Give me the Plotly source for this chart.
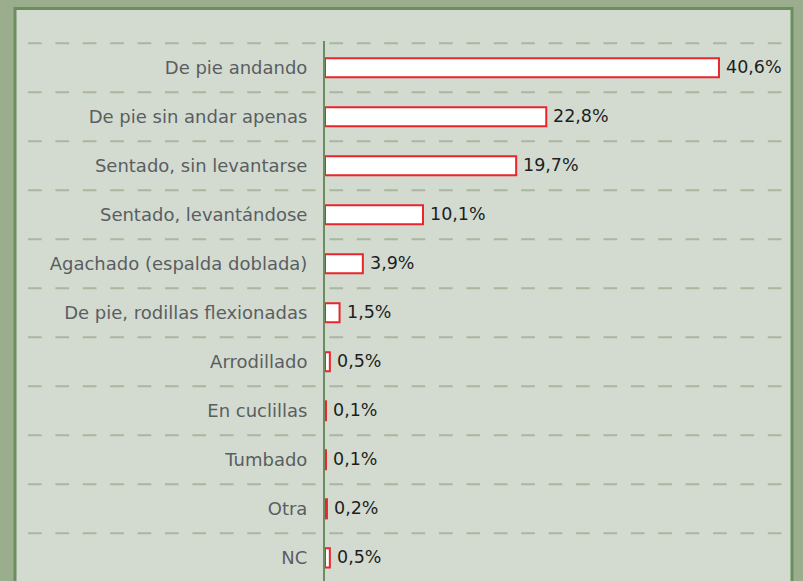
import plotly.graph_objects as go

# Postura habitual durante la jornada laboral (% de trabajadores)
categories = [
    "De pie andando",
    "De pie sin andar apenas",
    "Sentado, sin levantarse",
    "Sentado, levantándose",
    "Agachado (espalda doblada)",
    "De pie, rodillas flexionadas",
    "Arrodillado",
    "En cuclillas",
    "Tumbado",
    "Otra",
    "NC",
]
values = [40.6, 22.8, 19.7, 10.1, 3.9, 1.5, 0.5, 0.1, 0.1, 0.2, 0.5]
value_labels = [f"{v:.1f}".replace(".", ",") + "%" for v in values]

# Page geometry (pixels)
W, H = 803, 581
ML, MR, MT, MB = 325, 20, 41, 0
PW, PH = W - ML - MR, H - MT - MB

BAND = "#9aae8e"
FRAME = "#6b8e5f"
PANEL = "#d3dbd0"
GRID = "#a8b89e"
RED = "#e8262b"
FONT = "DejaVu Sans, Verdana, sans-serif"


def px_x(px):
    return (px - ML) / PW


def px_y(py):
    return 1 - (py - MT) / PH


fig = go.Figure()
fig.add_trace(
    go.Bar(
        x=values,
        y=categories,
        orientation="h",
        width=0.39,
        marker=dict(color="white", line=dict(color=RED, width=2)),
        hoverinfo="x+y",
    )
)

shapes = [
    # inner panel with its darker frame
    dict(
        type="rect", xref="paper", yref="paper", layer="below",
        x0=px_x(15), x1=px_x(792), y0=px_y(600), y1=px_y(8.5),
        fillcolor=PANEL, line=dict(color=FRAME, width=3),
    )
]
# dashed separators between categories
for i in range(len(categories)):
    shapes.append(
        dict(
            type="line", xref="paper", yref="y", layer="below",
            x0=px_x(28), x1=1, y0=i - 0.5, y1=i - 0.5,
            line=dict(color=GRID, width=2, dash="13.7px,13.7px"),
        )
    )

annotations = [
    dict(
        x=v, y=c, xref="x", yref="y", text=t, showarrow=False,
        xanchor="left", yanchor="middle", xshift=5, yshift=1,
        font=dict(family=FONT, size=17.5, color="#1e1e1e"),
    )
    for v, c, t in zip(values, categories, value_labels)
]

fig.update_layout(
    width=W, height=H,
    margin=dict(l=ML, r=MR, t=MT, b=MB, pad=0),
    paper_bgcolor=BAND,
    plot_bgcolor="rgba(0,0,0,0)",
    showlegend=False,
    shapes=shapes,
    annotations=annotations,
    xaxis=dict(
        range=[0, PW / 9.704], showgrid=False, zeroline=False,
        showticklabels=False, ticks="", showline=False, fixedrange=True,
    ),
    yaxis=dict(
        range=[10.473, -0.547], showgrid=False, zeroline=False,
        showline=True, linecolor=FRAME, linewidth=2,
        ticks="", ticklabelstandoff=12,
        tickfont=dict(family=FONT, size=18, color="#5a5e62"),
        fixedrange=True,
    ),
)

fig.write_html("out.html")
